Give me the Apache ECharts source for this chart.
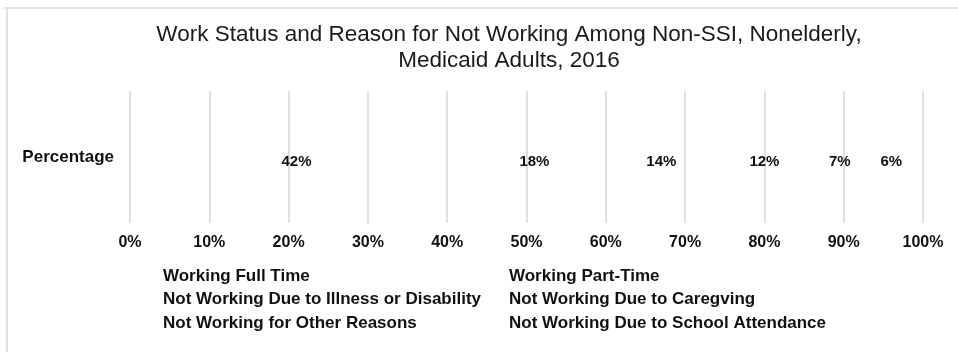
<!DOCTYPE html>
<html>
<head>
<meta charset="utf-8">
<script src="https://cdn.jsdelivr.net/npm/echarts@6/dist/echarts.min.js"></script>
<style>html,body{margin:0;padding:0;background:#fff}#c{width:958px;height:352px}</style>
</head>
<body>
<div id="c"></div>
<script>
const categories = ['Percentage'];
const seriesNames = [
  'Working Full Time',
  'Working Part-Time',
  'Not Working Due to Illness or Disability',
  'Not Working Due to Caregving',
  'Not Working for Other Reasons',
  'Not Working Due to School Attendance'
];
const fullTime = [42];
const partTime = [18];
const illness = [14];
const caregiving = [12];
const otherReasons = [7];
const school = [6];
const xTicks = [0, 10, 20, 30, 40, 50, 60, 70, 80, 90, 100];

const seriesValues = [fullTime, partTime, illness, caregiving, otherReasons, school];
const font = 'Arial, "Liberation Sans", sans-serif';
const ink = '#111';
const gridColor = '#dee1e7';

const chart = echarts.init(document.getElementById('c'), null, {renderer: 'canvas'});
chart.setOption({
  animation: false,
  backgroundColor: '#fff',
  title: {
    text: 'Work Status and Reason for Not Working Among Non-SSI, Nonelderly,\nMedicaid Adults, 2016',
    left: 504,
    textAlign: 'center',
    top: 17,
    textStyle: {fontFamily: font, fontSize: 22.5, fontWeight: 'normal', color: '#1a1a1a', lineHeight: 26}
  },
  graphic: [
    {type: 'line', shape: {x1: 4, y1: 8, x2: 958, y2: 8}, style: {stroke: gridColor, lineWidth: 2}},
    {type: 'line', shape: {x1: 7, y1: 8, x2: 7, y2: 352}, style: {stroke: gridColor, lineWidth: 2}}
  ],
  legend: {
    data: seriesNames,
    left: 153,
    top: 262,
    width: 720,
    itemWidth: 0,
    itemHeight: 18,
    itemGap: 5,
    icon: 'none',
    selectedMode: false,
    textStyle: {fontFamily: font, fontSize: 17, fontWeight: 'bold', color: ink, width: 336, lineHeight: 18.5}
  },
  grid: {left: 130, right: 35, top: 91, bottom: 129, containLabel: false},
  xAxis: {
    type: 'value',
    min: 0,
    max: 100,
    interval: 10,
    axisLine: {show: false},
    axisTick: {show: false},
    splitLine: {show: true, lineStyle: {color: gridColor, width: 2}},
    axisLabel: {
      margin: 12,
      fontFamily: font, fontSize: 16, fontWeight: 'bold', color: ink,
      formatter: v => xTicks.includes(v) ? v + '%' : ''
    }
  },
  yAxis: {
    type: 'category',
    data: categories,
    axisLine: {show: false},
    axisTick: {show: false},
    axisLabel: {margin: 16, fontFamily: font, fontSize: 17, fontWeight: 'bold', color: ink, padding: [3, 0, 0, 0]}
  },
  series: seriesNames.map((name, i) => ({
    name: name,
    type: 'bar',
    stack: 'total',
    barWidth: '60%',
    data: seriesValues[i],
    itemStyle: {color: 'rgba(255,255,255,0)'},
    label: {
      show: true,
      position: 'inside',
      offset: [0, 5],
      formatter: '{c}%',
      fontFamily: font, fontSize: 15, fontWeight: 'bold', color: ink
    }
  }))
});
</script>
</body>
</html>
